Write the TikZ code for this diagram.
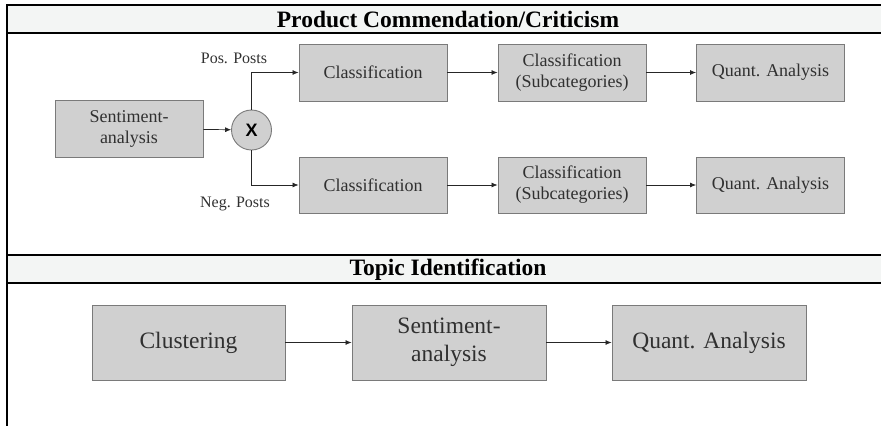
\documentclass[tikz,border=0pt]{standalone}
\usepackage{fontspec}
\setmainfont{Liberation Serif}
\newfontfamily\xsans{Liberation Sans}
\usetikzlibrary{arrows.meta}
\definecolor{boxfill}{HTML}{D0D0D0}
\definecolor{boxline}{HTML}{7A7A7A}
\definecolor{headfill}{HTML}{F3F5F4}
\definecolor{txt}{HTML}{303030}
\tikzset{
  stepbox/.style={draw=boxline, fill=boxfill, line width=0.9pt, inner sep=0pt, align=center, text=txt, font=\fontsize{18}{21}\selectfont},
  bigbox/.style={draw=boxline, fill=boxfill, line width=0.9pt, inner sep=0pt, align=center, text=txt, font=\fontsize{23.5}{28}\selectfont},
  conn/.style={draw=black!85, line width=0.7pt, -{Latex[length=6pt,width=5pt]}},
  frameline/.style={draw=black, line width=1.4pt},
  headtext/.style={font=\bfseries\fontsize{23.5}{26}\selectfont, text=black},
  lbl/.style={font=\fontsize{16}{19}\selectfont, text=txt}
}
\begin{document}
\begin{tikzpicture}[x=1pt,y=-1pt]
\useasboundingbox (0,0) rectangle (883,426);
% headers
\fill[headfill] (7,5) rectangle (881,33);
\fill[headfill] (7,255) rectangle (881,283);
\draw[frameline] (7,5) -- (881,5);
\draw[frameline] (7,33) -- (881,33);
\draw[frameline] (7,255) -- (881,255);
\draw[frameline] (7,283) -- (881,283);
\draw[frameline] (7,4.3) -- (7,426);
\node[headtext] (h1) at (448,19.5) {Product Commendation/Criticism};
\node[headtext] (h2) at (448,269.5) {Topic Identification};
% top section
\node[stepbox, minimum width=148pt, minimum height=57pt] (sa) at (129,128.5) {Sentiment-\\analysis};
\node[draw=boxline, fill=boxfill, line width=0.9pt, circle, minimum size=40pt, inner sep=0pt, font=\xsans\bfseries\fontsize{18}{20}\selectfont] (x) at (251.5,130) {X};
\node[stepbox, minimum width=148pt, minimum height=57pt] (c1) at (373,72.5) {Classification};
\node[stepbox, minimum width=148pt, minimum height=57pt] (s1) at (572,72.5) {Classification\\(Subcategories)};
\node[stepbox, minimum width=148pt, minimum height=57pt] (q1) at (770.5,72.5) {Quant. Analysis};
\node[stepbox, minimum width=148pt, minimum height=56pt] (c2) at (373,185) {Classification};
\node[stepbox, minimum width=148pt, minimum height=56pt] (s2) at (572,185) {Classification\\(Subcategories)};
\node[stepbox, minimum width=148pt, minimum height=56pt] (q2) at (770.5,185) {Quant. Analysis};
\node[lbl] (pos) at (234,58) {Pos. Posts};
\node[lbl] (neg) at (235,204) {Neg. Posts};
\draw[conn] (sa) -- (x);
\draw[conn] (x.north) |- (c1.west);
\draw[conn] (x.south) |- (c2.west);
\draw[conn] (c1) -- (s1);
\draw[conn] (s1) -- (q1);
\draw[conn] (c2) -- (s2);
\draw[conn] (s2) -- (q2);
% bottom section
\node[bigbox, minimum width=193pt, minimum height=75pt] (cl) at (188.5,342.5) {Clustering};
\node[bigbox, minimum width=194pt, minimum height=75pt] (sb) at (449,342.5) {Sentiment-\\analysis};
\node[bigbox, minimum width=194pt, minimum height=75pt] (qb) at (709,342.5) {Quant. Analysis};
\draw[conn] (cl) -- (sb);
\draw[conn] (sb) -- (qb);
\end{tikzpicture}
\end{document}
